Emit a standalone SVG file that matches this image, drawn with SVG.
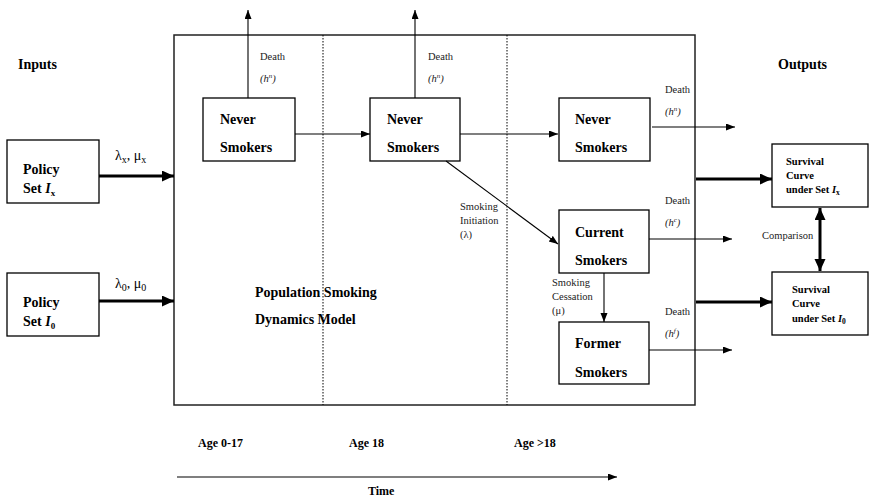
<svg xmlns="http://www.w3.org/2000/svg" width="870" height="499" viewBox="0 0 870 499">
<style>
text{font-family:"Liberation Serif","Times New Roman",serif;fill:#000}
.b{font-weight:bold}
.n14{font-size:14px;font-weight:bold}
.s{font-size:10.5px;fill:#222}
.i{font-style:italic}
.box{fill:#fff;stroke:#000;stroke-width:1.3}
.ln{stroke:#000;stroke-width:1.1;fill:none}
.thk{stroke:#000;stroke-width:3;fill:none}
.dot{stroke:#000;stroke-width:1;stroke-dasharray:1.5,1.5}
</style>
<defs>
<marker id="a" markerUnits="userSpaceOnUse" markerWidth="10" markerHeight="8" refX="9" refY="3.5" orient="auto"><path d="M0,0 L9,3.5 L0,7 z" fill="#000"/></marker>
<marker id="A" markerUnits="userSpaceOnUse" markerWidth="14" markerHeight="12" refX="12" refY="5.5" orient="auto-start-reverse"><path d="M0,0 L12,5.5 L0,11 z" fill="#000"/></marker>
</defs>

<g id="model">
<rect x="174" y="35" width="521" height="370" fill="none" stroke="#222" stroke-width="1.5"/>
<line class="dot" x1="323" y1="35" x2="323" y2="405"/>
<line class="dot" x1="507" y1="35" x2="507" y2="405"/>
<text class="n14" x="255" y="297">Population Smoking</text>
<text class="n14" x="255" y="324">Dynamics Model</text>
</g>

<g id="labels">
<text class="n14" x="18" y="69">Inputs</text>
<text class="n14" x="778" y="69">Outputs</text>
<text class="b" font-size="12" x="198" y="447">Age 0-17</text>
<text class="b" font-size="12" x="349" y="447">Age 18</text>
<text class="b" font-size="12" x="514" y="447">Age &gt;18</text>
<text class="b" font-size="12" x="368" y="495">Time</text>
</g>

<g id="policy-x">
<rect class="box" x="7" y="140" width="92" height="63"/>
<text class="n14" x="23" y="174">Policy</text>
<text class="n14" x="23" y="193">Set <tspan class="i">I</tspan><tspan font-size="9" dy="3">x</tspan></text>
</g>
<g id="policy-0">
<rect class="box" x="7" y="273" width="92" height="63"/>
<text class="n14" x="23" y="307">Policy</text>
<text class="n14" x="23" y="326">Set <tspan class="i">I</tspan><tspan font-size="9" dy="3">0</tspan></text>
</g>

<g id="never1">
<rect class="box" x="203" y="98" width="92" height="63"/>
<text class="n14" x="220" y="124">Never</text>
<text class="n14" x="220" y="152">Smokers</text>
</g>
<g id="never2">
<rect class="box" x="370" y="98" width="90" height="63"/>
<text class="n14" x="387" y="124">Never</text>
<text class="n14" x="387" y="152">Smokers</text>
</g>
<g id="never3">
<rect class="box" x="559" y="98" width="91" height="63"/>
<text class="n14" x="575" y="124">Never</text>
<text class="n14" x="575" y="152">Smokers</text>
</g>
<g id="current">
<rect class="box" x="559" y="210" width="90" height="63"/>
<text class="n14" x="575" y="237">Current</text>
<text class="n14" x="575" y="265">Smokers</text>
</g>
<g id="former">
<rect class="box" x="559" y="322" width="90" height="62"/>
<text class="n14" x="575" y="348">Former</text>
<text class="n14" x="575" y="377">Smokers</text>
</g>

<g id="survival-x">
<rect class="box" x="772" y="144" width="96" height="63"/>
<text class="b" font-size="10.5" x="786" y="165">Survival</text>
<text class="b" font-size="10.5" x="786" y="179">Curve</text>
<text class="b" font-size="10.5" x="786" y="193">under Set <tspan class="i">I</tspan><tspan font-size="7.5" dy="2">x</tspan></text>
</g>
<g id="survival-0">
<rect class="box" x="772" y="272" width="96" height="63"/>
<text class="b" font-size="10.5" x="792" y="293">Survival</text>
<text class="b" font-size="10.5" x="792" y="307">Curve</text>
<text class="b" font-size="10.5" x="792" y="322">under Set <tspan class="i">I</tspan><tspan font-size="7.5" dy="2">0</tspan></text>
</g>

<g id="connectors">
<line class="thk" x1="99" y1="176" x2="174" y2="176" marker-end="url(#A)"/>
<line class="thk" x1="99" y1="301" x2="174" y2="301" marker-end="url(#A)"/>
<text font-size="14" x="115" y="160">λ<tspan font-size="10" dy="3">x</tspan><tspan dy="-3">, μ</tspan><tspan font-size="10" dy="3">x</tspan></text>
<text font-size="14" x="115" y="288">λ<tspan font-size="10" dy="3">0</tspan><tspan dy="-3">, μ</tspan><tspan font-size="10" dy="3">0</tspan></text>

<line class="ln" x1="248" y1="98" x2="248" y2="10" marker-end="url(#a)"/>
<text class="s" x="260" y="60">Death</text>
<text class="s i" x="260" y="82">(h<tspan font-size="7" dy="-4">n</tspan><tspan dy="4">)</tspan></text>
<line class="ln" x1="415" y1="98" x2="415" y2="10" marker-end="url(#a)"/>
<text class="s" x="428" y="60">Death</text>
<text class="s i" x="428" y="82">(h<tspan font-size="7" dy="-4">n</tspan><tspan dy="4">)</tspan></text>

<line class="ln" x1="295" y1="134" x2="370" y2="134" marker-end="url(#a)"/>
<line class="ln" x1="460" y1="134" x2="558" y2="134" marker-end="url(#a)"/>

<line class="ln" x1="446" y1="161" x2="558" y2="244" marker-end="url(#a)"/>
<text class="s" x="460" y="210">Smoking</text>
<text class="s" x="460" y="224">Initiation</text>
<text class="s" x="460" y="238">(λ)</text>

<line class="ln" x1="604" y1="273" x2="604" y2="322" marker-end="url(#a)"/>
<text class="s" x="552" y="286">Smoking</text>
<text class="s" x="552" y="300">Cessation</text>
<text class="s" x="552" y="314">(μ)</text>

<line class="ln" x1="652" y1="127" x2="735" y2="127" marker-end="url(#a)"/>
<text class="s" x="665" y="93">Death</text>
<text class="s i" x="665" y="115">(h<tspan font-size="7" dy="-4">n</tspan><tspan dy="4">)</tspan></text>
<line class="ln" x1="649" y1="239" x2="732" y2="239" marker-end="url(#a)"/>
<text class="s" x="665" y="204">Death</text>
<text class="s i" x="665" y="226">(h<tspan font-size="7" dy="-4">c</tspan><tspan dy="4">)</tspan></text>
<line class="ln" x1="649" y1="350" x2="732" y2="350" marker-end="url(#a)"/>
<text class="s" x="665" y="315">Death</text>
<text class="s i" x="665" y="337">(h<tspan font-size="7" dy="-4">f</tspan><tspan dy="4">)</tspan></text>

<line class="thk" x1="696" y1="179" x2="772" y2="179" marker-end="url(#A)"/>
<line class="thk" x1="696" y1="302" x2="772" y2="302" marker-end="url(#A)"/>

<line class="thk" x1="820" y1="208" x2="820" y2="271" marker-start="url(#A)" marker-end="url(#A)"/>
<text class="s" x="762" y="239">Comparison</text>

<line class="ln" x1="177" y1="477" x2="617" y2="477" stroke-width="1.3" marker-end="url(#a)"/>
</g>
</svg>
